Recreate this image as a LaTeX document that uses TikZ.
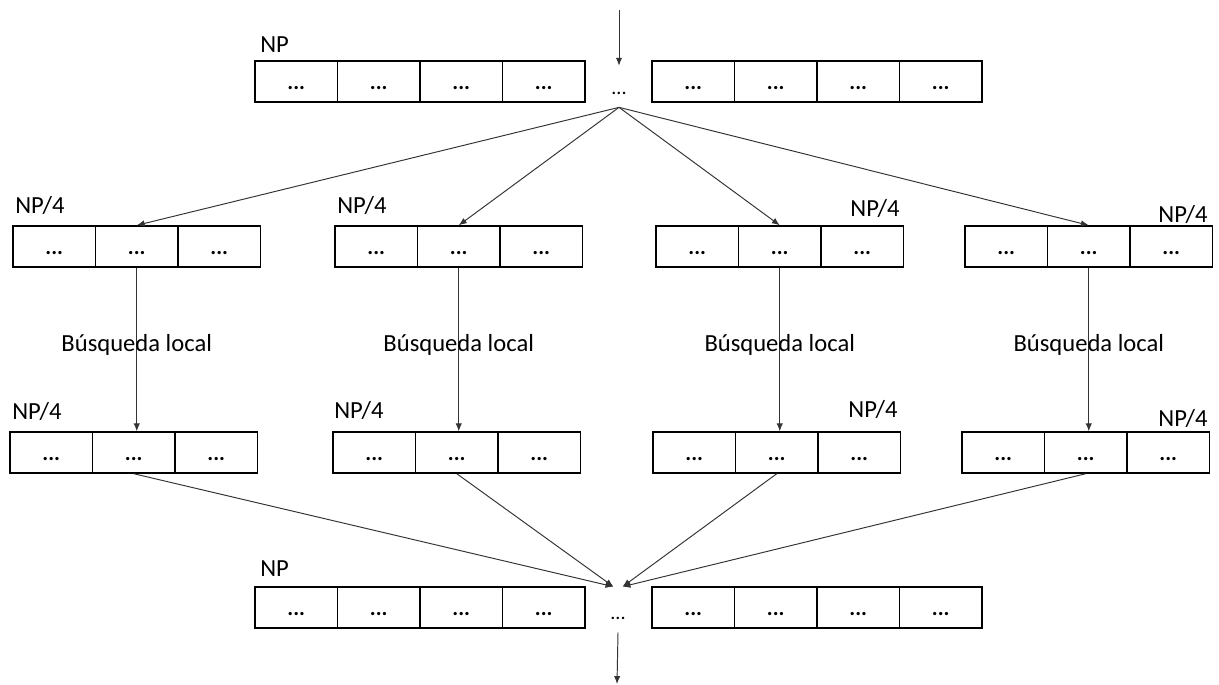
\documentclass[tikz,border=0pt]{standalone}
\usepackage{fontspec}
\setmainfont{Carlito}
\usetikzlibrary{arrows.meta}

\tikzset{
  cell/.style={draw, line width=0.8pt, minimum width=1.65cm, minimum height=0.82cm, inner sep=0pt,
    text height=9pt, text depth=0pt, font=\fontsize{12.5}{14}\selectfont\bfseries},
  midots/.style={inner sep=0pt, minimum height=0.82cm, text height=9pt, text depth=0pt,
    font=\fontsize{11.5}{13}\selectfont},
  lbl/.style={inner sep=0pt},
  arr/.style={->, draw=black!80, line width=0.55pt}
}

\begin{document}
\begin{tikzpicture}[x=0.02cm, y=-0.02cm, >={Latex[length=4.5pt,width=3.6pt]}, font=\fontsize{14}{17}\selectfont]

\useasboundingbox (0,0) rectangle (1219,684);

% population NP, arriba
\foreach \i in {1,...,4} {
  \node[cell] (tl\i) at ({255+82.5*\i-41.25}, 81.5) {...};
  \node[cell] (tr\i) at ({652+82.5*\i-41.25}, 81.5) {...};
}
\node[midots] (topdots) at (619, 86.5) {...};
\node[lbl, anchor=base west] (np-top) at (260, 52) {NP};
\coordinate (in) at (619, 10);

% subpoblaciones NP/4
\foreach \k/\xa/\xb in {1/13/10, 2/335/333, 3/656/653, 4/965/962} {
  \foreach \i in {1,2,3} {
    \node[cell] (g\k-\i) at ({\xa+82.5*\i-41.25}, 246.5) {...};
    \node[cell] (h\k-\i) at ({\xb+82.5*\i-41.25}, 452.5) {...};
  }
}
\node[lbl, anchor=base west] (np-g1) at (15, 213) {NP/4};
\node[lbl, anchor=base west] (np-g2) at (337, 213) {NP/4};
\node[lbl, anchor=base east] (np-g3) at (900, 216) {NP/4};
\node[lbl, anchor=base east] (np-g4) at (1208, 222) {NP/4};
\node[lbl, anchor=base west] (np-h1) at (12, 419) {NP/4};
\node[lbl, anchor=base west] (np-h2) at (334, 418) {NP/4};
\node[lbl, anchor=base east] (np-h3) at (898, 417) {NP/4};
\node[lbl, anchor=base east] (np-h4) at (1208, 426) {NP/4};

% population NP, abajo
\foreach \i in {1,...,4} {
  \node[cell] (bl\i) at ({255+82.5*\i-41.25}, 607.5) {...};
  \node[cell] (br\i) at ({652+82.5*\i-41.25}, 607.5) {...};
}
\node[midots, minimum height=0.9cm, text height=10.8pt] (botdots) at (618, 609.5) {...};
\node[lbl, anchor=base west] (np-bot) at (260, 576) {NP};
\coordinate (out) at (617, 684);

% flechas
\draw[arr] (in) -- (topdots.north);
\foreach \k in {1,...,4}
  \draw[arr] (topdots.south) -- (g\k-2.north);
\foreach \k in {1,...,4}
  \draw[arr] (g\k-2.south) -- (g\k-2.south |- h\k-2.north) node[pos=0.47, black] {Búsqueda local};
\foreach \k/\xs in {1/-2.6, 2/-2.6, 3/2.6, 4/2.6}
  \draw[arr] (h\k-2.south) -- ([xshift=\xs pt]botdots.north);
\draw[arr] (botdots.south) -- (out);

\end{tikzpicture}
\end{document}
